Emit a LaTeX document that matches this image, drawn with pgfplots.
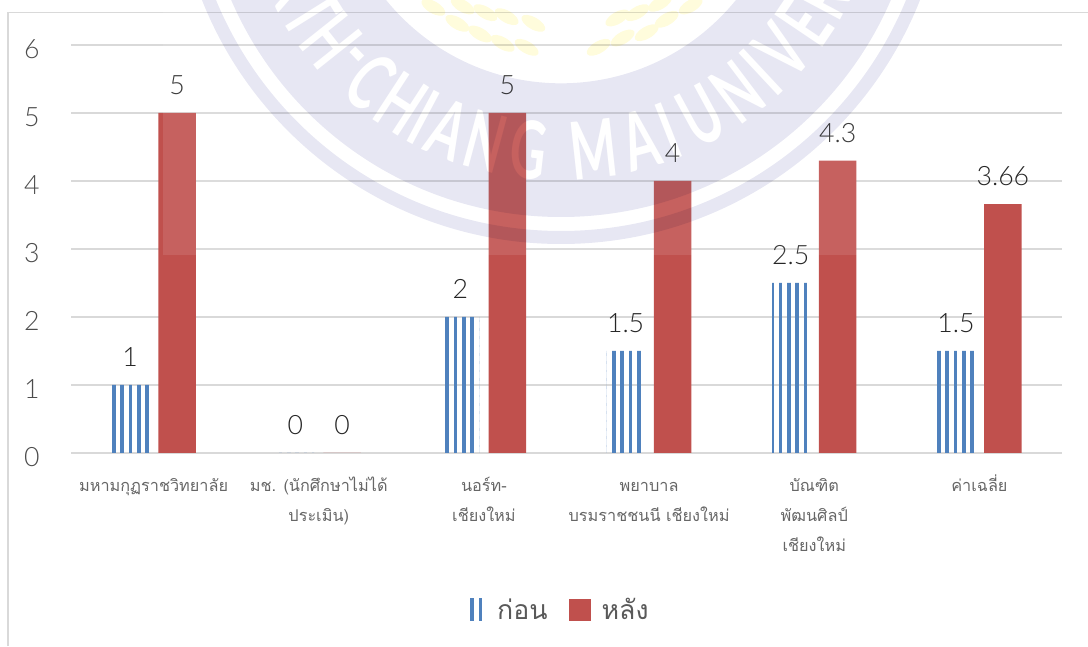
\documentclass[border=0pt]{standalone}
\usepackage{fontspec}
\usepackage{pgfplots}
\pgfplotsset{compat=1.18}
\usetikzlibrary{patterns,calc}
\setmainfont[Script=Thai]{Loma}
\newfontfamily\wmfont[FakeStretch=0.62]{Lato Bold}
\newfontfamily\numfont{Lato Light}
\definecolor{barblue}{HTML}{4F81BD}
\definecolor{barred}{HTML}{C0504D}
\definecolor{gridc}{HTML}{D9D9D9}
\definecolor{ringc}{HTML}{E7E7F3}
\definecolor{wheat}{HTML}{FFFCDC}
\pgfdeclarepatternformonly{vstripes}{\pgfqpoint{0pt}{-1pt}}{\pgfqpoint{6.25pt}{7.25pt}}{\pgfqpoint{6.25pt}{6.25pt}}{%
  \pgfpathrectangle{\pgfqpoint{2.75pt}{-1pt}}{\pgfqpoint{2.85pt}{8.25pt}}\pgfusepath{fill}}
\begin{document}
\begin{tikzpicture}[x=1pt,y=1pt]
\path[use as bounding box] (0,0) rectangle (816,484.5);
\draw[gridc,line width=0.9pt] (6,0) -- (6,475) -- (816,475);
\begin{axis}[
  at={(53.25pt,144.75pt)},anchor=south west,
  scale only axis,width=743.25pt,height=306pt,
  xmin=-0.5,xmax=5.5,ymin=0,ymax=6,
  ybar=7.1pt,bar width=28.1pt,
  axis line style={draw=none},
  major tick length=0pt,
  ymajorgrids,
  grid style={gridc,line width=1.1pt},
  ytick={0,1,2,3,4,5,6},
  xtick={0,1,2,3,4,5},
  xticklabels={\strut มหามกุฏราชวิทยาลัย,{\strut มช. (นักศึกษาไม่ได้\\ประเมิน)},{\strut นอร์ท-\\เชียงใหม่},{\strut พยาบาล\\บรมราชชนนี เชียงใหม่},{\strut บัณฑิต\\พัฒนศิลป์\\เชียงใหม่},\strut ค่าเฉลี่ย},
  /pgf/number format/assume math mode=true,
  /pgf/number format/fixed,/pgf/number format/precision=2,
  yticklabel style={font=\numfont\fontsize{20}{22}\selectfont,text=black!70,xshift=-20pt,yshift=-3pt},
  xticklabel style={font=\fontsize{12.2}{22.5}\selectfont,text=black!60,align=center,anchor=north,yshift=-9.5pt},
  nodes near coords,
  every node near coord/.append style={font=\numfont\fontsize{20}{22}\selectfont,text=black!85,anchor=center,yshift=21pt},
  legend columns=2,
  legend style={at={(0.493,-0.385)},anchor=center,draw=none,fill=none,font=\fontsize{20}{24}\selectfont,text=black!65,
    /tikz/every odd column/.append style={column sep=6pt},
    /tikz/every even column/.append style={column sep=14pt}},
  legend cell align=left,
]
\addplot+[draw=none,pattern=vstripes,pattern color=barblue,
  legend image code/.code={\fill[pattern=vstripes,pattern color=barblue] (0pt,-8pt) rectangle (14pt,8.5pt);}]
  coordinates {(0,1)(1,0)(2,2)(3,1.5)(4,2.5)(5,1.5)};
\addplot+[draw=none,fill=barred,
  legend image code/.code={\fill[barred] (0pt,-8pt) rectangle (16.5pt,8.5pt);}]
  coordinates {(0,5)(1,0)(2,5)(3,4)(4,4.3)(5,3.66)};
\legend{ก่อน,หลัง}
\end{axis}
% faint university watermark lying over the chart
\begin{scope}
\clip (0,0) rectangle (816,484.5);
\fill[white,opacity=0.1] (122,293.25) rectangle (660,484.5);
\begin{scope}[transparency group,blend mode=multiply]
\fill[ringc,even odd rule] (420.75,591) circle (289.5) circle (279.75) circle (269.25) circle (169);
\foreach \ch/\ang in {R/-64,T/-58,H/-51.5,{-}/-46,C/-40.5,H/-33,I/-28,A/-22.5,N/-15,G/-6.4,M/6.3,A/15.6,I/21.5,U/28.5,N/37,I/43,V/49,E/56,R/62,S/68,I/73}
  \node[rotate=\ang,inner sep=0pt,text=white,font=\fontsize{60}{60}\wmfont] at ($(420.75,591)+(\ang-90:220)$) {\ch};
\foreach \a/\b in {325/479,343/467,347/480,360/459,364/475,377/452,380/472,395/449,400/467}
  \fill[wheat,rotate around={-30:(\a,\b)}] (\a,\b) ellipse (10 and 4.5);
\foreach \a/\b in {449/449,467/456,485/460,500/470,518/480,463/471,478/475,495/482}
  \fill[wheat,rotate around={30:(\a,\b)}] (\a,\b) ellipse (10 and 4.5);
\end{scope}
\end{scope}
\end{tikzpicture}
\end{document}
